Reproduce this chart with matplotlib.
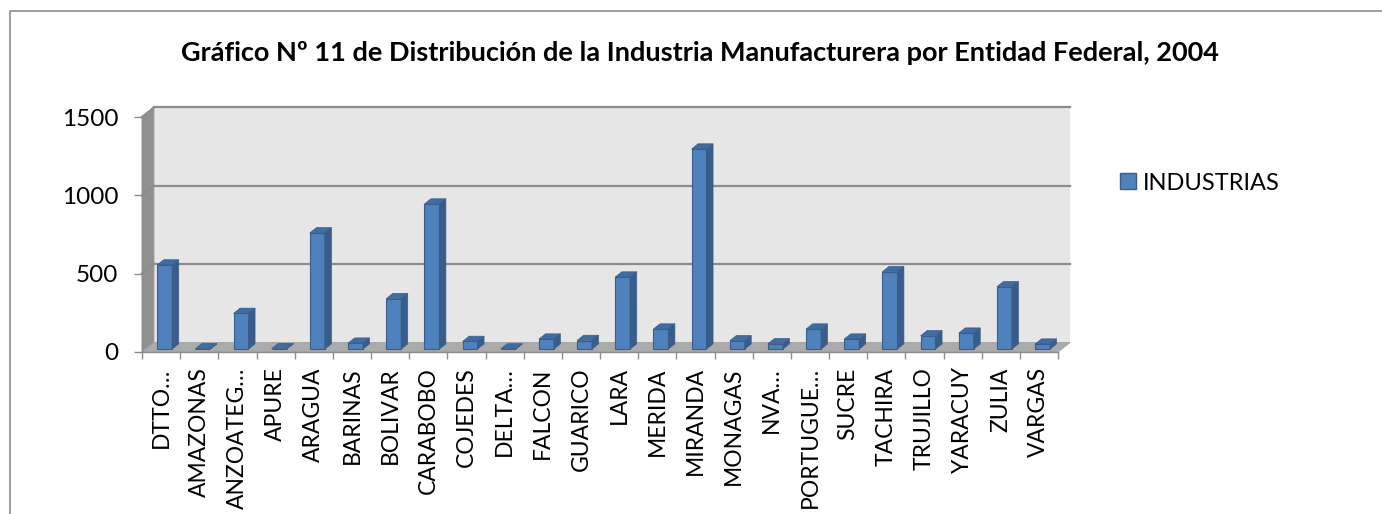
import matplotlib
matplotlib.use("Agg")
import matplotlib.pyplot as plt
from matplotlib.patches import Polygon, Rectangle, Patch
from matplotlib.lines import Line2D

plt.rcParams['font.family'] = ['Lato', 'DejaVu Sans']

# ----------------------------------------------------------------------
# data
states = ["DTTO…", "AMAZONAS", "ANZOATEG…", "APURE", "ARAGUA", "BARINAS",
          "BOLIVAR", "CARABOBO", "COJEDES", "DELTA…", "FALCON", "GUARICO",
          "LARA", "MERIDA", "MIRANDA", "MONAGAS", "NVA…", "PORTUGUE…",
          "SUCRE", "TACHIRA", "TRUJILLO", "YARACUY", "ZULIA", "VARGAS"]
industrias = [537, 2, 228, 3, 742, 38, 322, 926, 49, 1, 64, 55,
              460, 128, 1277, 53, 34, 128, 64, 494, 85, 102, 398, 32]
yticks = [0, 500, 1000, 1500]
title = "Gráfico Nº 11 de Distribución de la Industria Manufacturera por Entidad Federal, 2004"

# fake 3D look: depth offset of the back wall (data units)
DX, DY = 0.314, 61.0
BAR_D0, BAR_D1 = 0.30, 0.85        # bar front / back as fraction of depth
BAR_W = 0.39

FRONT = "#4F81BD"
SIDE = "#385D8A"
TOP = "#3F6CA3"
GRID = "#8C8C8C"

fig = plt.figure(figsize=(13.82, 5.14), dpi=100)
ax = fig.add_axes([142 / 1382, 1 - 352 / 514, 916 / 1382, 235 / 514])
n = len(states)
ax.set_xlim(0, n)
ax.set_ylim(0, 1500)
for s in ax.spines.values():
    s.set_visible(False)

# walls and floor
ax.add_patch(Rectangle((DX, DY), n, 1500, fc="#E6E6E6", ec="none",
                       clip_on=False, zorder=0))
ax.add_patch(Polygon([(0, 0), (DX, DY), (DX, 1500 + DY), (0, 1500)],
                     fc="#909090", ec="#A0A0A0", lw=0.6, clip_on=False, zorder=1))
ax.add_patch(Polygon([(0, 0), (n, 0), (n + DX, DY), (DX, DY)],
                     fc="#ABABAB", ec="#A0A0A0", lw=0.6, clip_on=False, zorder=1))
for v in yticks[1:]:
    ax.plot([DX, n + DX], [v + DY, v + DY], color=GRID, lw=1.6,
            clip_on=False, zorder=2)
    ax.plot([0, DX], [v, v + DY], color=GRID, lw=1.6, clip_on=False, zorder=2)

# axes lines
ax.plot([0, 0], [0, 1500], color=GRID, lw=1.0, clip_on=False, zorder=2)
ax.plot([0, n], [0, 0], color=GRID, lw=1.0, clip_on=False, zorder=2)

# bars
x0 = [i + 0.5 + BAR_D0 * DX for i in range(n)]
y0 = BAR_D0 * DY
ax.bar(x0, industrias, width=BAR_W, bottom=y0, color=FRONT, edgecolor=SIDE,
       lw=0.8, zorder=3, clip_on=False)
ddx = (BAR_D1 - BAR_D0) * DX
ddy = (BAR_D1 - BAR_D0) * DY
for xc, v in zip(x0, industrias):
    xl, xr = xc - BAR_W / 2, xc + BAR_W / 2
    yt = y0 + v
    ax.add_patch(Polygon([(xr, y0), (xr + ddx, y0 + ddy), (xr + ddx, yt + ddy),
                          (xr, yt)], fc=SIDE, ec=SIDE, lw=0.5,
                         zorder=3, clip_on=False))
    ax.add_patch(Polygon([(xl, yt), (xr, yt), (xr + ddx, yt + ddy),
                          (xl + ddx, yt + ddy)], fc=TOP, ec=SIDE, lw=0.5,
                         zorder=3, clip_on=False))

# ticks
ax.set_yticks(yticks)
ax.set_yticklabels([str(v) for v in yticks])
ax.tick_params(axis="y", length=6, width=1.0, color=GRID, pad=11,
               labelsize=17.5)
ax.set_xticks(range(n + 1), minor=False)
ax.set_xticklabels([""] * (n + 1))
ax.set_xticks([i + 0.5 for i in range(n)], minor=True)
ax.set_xticklabels(states, minor=True, rotation=90, va="top", ha="center",
                   fontsize=16.5)
ax.tick_params(axis="x", which="major", length=5, width=1.0, color=GRID)
ax.tick_params(axis="x", which="minor", length=0, pad=11)

# legend
fig.legend(handles=[Patch(fc=FRONT, ec=SIDE, lw=1.0)], labels=["INDUSTRIAS"],
           loc="center left", bbox_to_anchor=(1120 / 1382, 1 - 183 / 514),
           frameon=False, fontsize=17, handlelength=0.68, handleheight=0.68,
           handletextpad=0.3, borderpad=0, borderaxespad=0)

fig.text(700 / 1382, 1 - 53 / 514, title, ha="center", va="center",
         fontsize=19.5, fontweight="bold")

# chart frame (only left and top edges visible in the crop)
fig.add_artist(Line2D([9.5 / 1382, 9.5 / 1382, 1.0],
                      [0.0, 1 - 10.5 / 514, 1 - 10.5 / 514],
                      transform=fig.transFigure, color=GRID, lw=1.2))

fig.savefig("out.png", dpi=100)
